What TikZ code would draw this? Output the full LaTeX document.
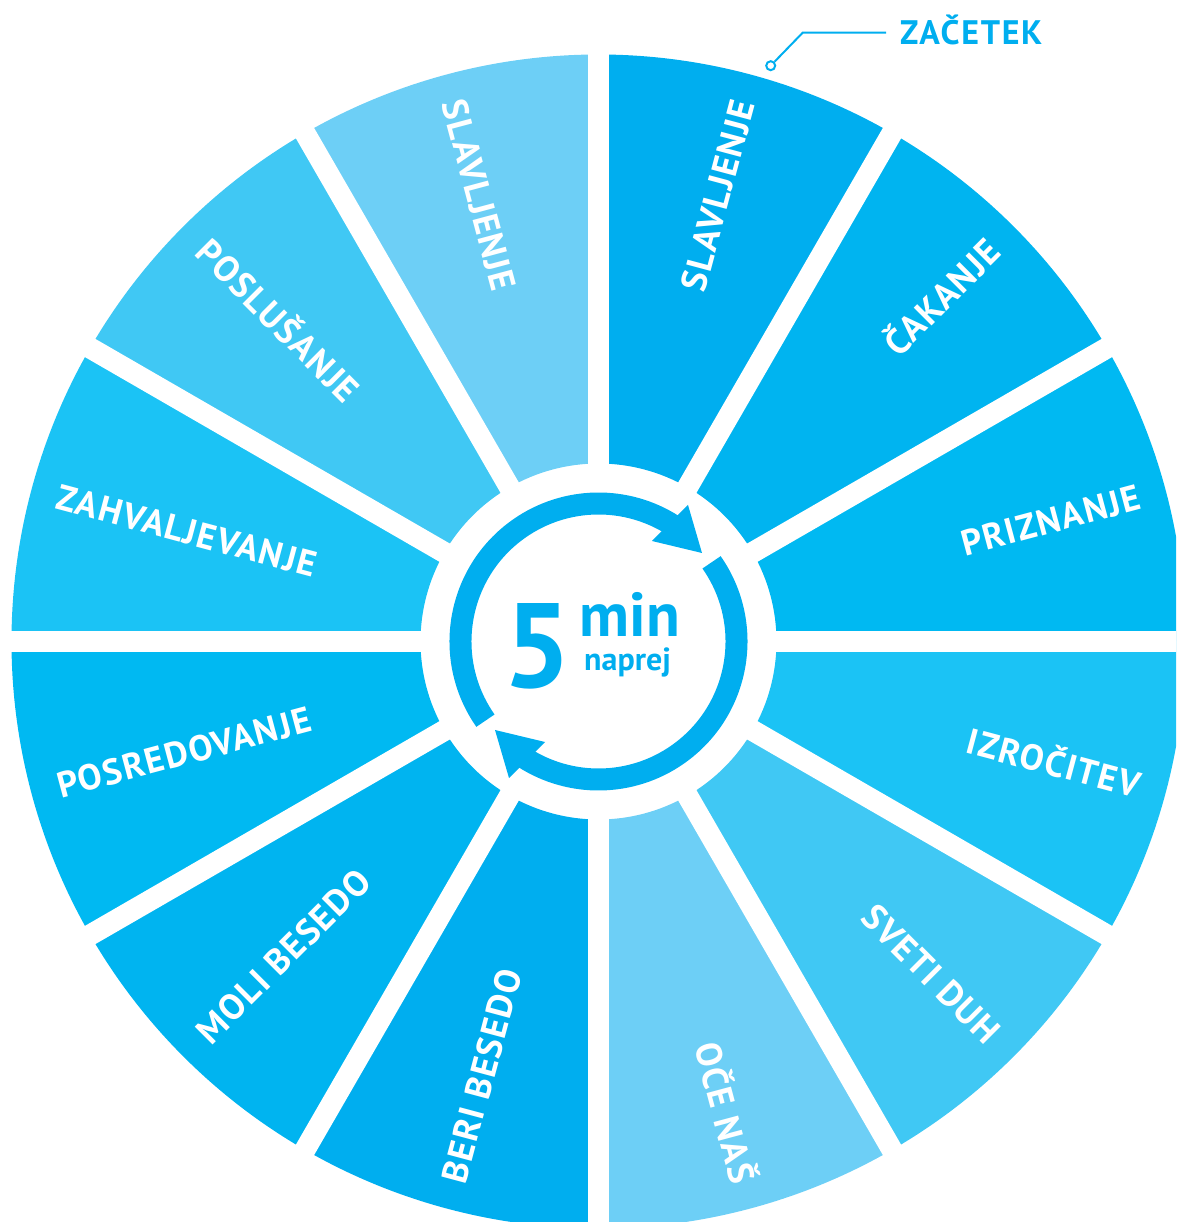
\documentclass[tikz,border=0pt]{standalone}
\usepackage{fontspec}
\setmainfont{PT Sans}

\definecolor{segA}{HTML}{00AEEF}
\definecolor{segB}{HTML}{00B4F0}
\definecolor{segC}{HTML}{00B9F2}
\definecolor{segD}{HTML}{1BC3F5}
\definecolor{segE}{HTML}{40C8F4}
\definecolor{segF}{HTML}{6DCFF6}

\tikzset{
  seglabel/.style={text=white, inner sep=0pt, text height=25pt, text depth=0pt,
    font=\bfseries\fontsize{36}{36}\selectfont\addfontfeatures{LetterSpace=4}},
  ringline/.style={draw=segA, line width=22pt},
  leader/.style={draw=segA, line width=2pt}
}

\begin{document}
\begin{tikzpicture}[x=1pt,y=1pt]
    \clip (-598.5,-580.5) rectangle (577.5,641.5);
    % wheel
    \foreach \a/\c in {60/segA,30/segB,0/segC,-30/segD,-60/segE,-90/segF,
                       240/segA,210/segB,180/segC,150/segD,120/segE,90/segF}
    {
      \pgfmathsetmacro{\b}{\a+30}
      \fill[\c] (\a:178) arc[start angle=\a, end angle=\b, radius=178]
        -- (\b:587) arc[start angle=\b, end angle=\a, radius=587] -- cycle;
    }
    \foreach \a in {0,30,...,150}
      \draw[white, line width=21pt] (\a:600) -- (\a+180:600);

    \node[seglabel, anchor=east, rotate=75] (slavR) at (75:560) {SLAVLJENJE};
    \node[seglabel, anchor=east, rotate=45] (cakanje) at (45:560) {ČAKANJE};
    \node[seglabel, anchor=east, rotate=15] (priznanje) at (15:560) {PRIZNANJE};
    \node[seglabel, anchor=east, rotate=-15] (izrocitev) at (-15:560) {IZROČITEV};
    \node[seglabel, anchor=east, rotate=-45] (svetiduh) at (-45:560) {SVETI DUH};
    \node[seglabel, anchor=east, rotate=-75] (ocenas) at (-75:560) {OČE NAŠ};
    \node[seglabel, anchor=west, rotate=75] (beri) at (255:560) {BERI BESEDO};
    \node[seglabel, anchor=west, rotate=45] (moli) at (225:560) {MOLI BESEDO};
    \node[seglabel, anchor=west, rotate=15] (posred) at (195:560) {POSREDOVANJE};
    \node[seglabel, anchor=west, rotate=-15] (zahval) at (165:560) {ZAHVALJEVANJE};
    \node[seglabel, anchor=west, rotate=-45] (poslus) at (135:560) {POSLUŠANJE};
    \node[seglabel, anchor=west, rotate=-75] (slavL) at (105:560) {SLAVLJENJE};

    % circular arrows
    \draw[ringline] (215:138) arc[start angle=215, end angle=57, radius=138];
    \fill[segA] (103.5,88.5) -- (89.5,136.5) -- (53.5,100.5) -- cycle;
    \draw[ringline] (35:138) arc[start angle=35, end angle=-123, radius=138];
    \fill[segA] (-103.5,-88.5) -- (-89.5,-136.5) -- (-53.5,-100.5) -- cycle;

    \node[text=segA, inner sep=0pt, anchor=base, font=\bfseries\fontsize{120}{120}\selectfont] (five) at (-60.5,-46.5) {5};
    \node[text=segA, inner sep=0pt, anchor=base west, font=\bfseries\fontsize{62}{62}\selectfont] (min) at (-19,4.8) {min};
    \node[text=segA, inner sep=0pt, anchor=base west, font=\bfseries\fontsize{32}{32}\selectfont] (naprej) at (-14.5,-29) {naprej};

    % start marker
    \node[circle, leader, fill=white, minimum size=9pt, inner sep=0pt] (dot) at (172.2,575.8) {};
    \coordinate (knee) at (204.2,608.8);
    \node[text=segA, anchor=west, inner xsep=14pt, inner ysep=0pt, text height=24pt, text depth=0pt,
      font=\bfseries\fontsize{34}{34}\selectfont\addfontfeatures{LetterSpace=5}] (zacetek) at (287.5,608.8) {ZAČETEK};
    \draw[leader] (dot) -- (knee) -- (zacetek.west);
\end{tikzpicture}
\end{document}
